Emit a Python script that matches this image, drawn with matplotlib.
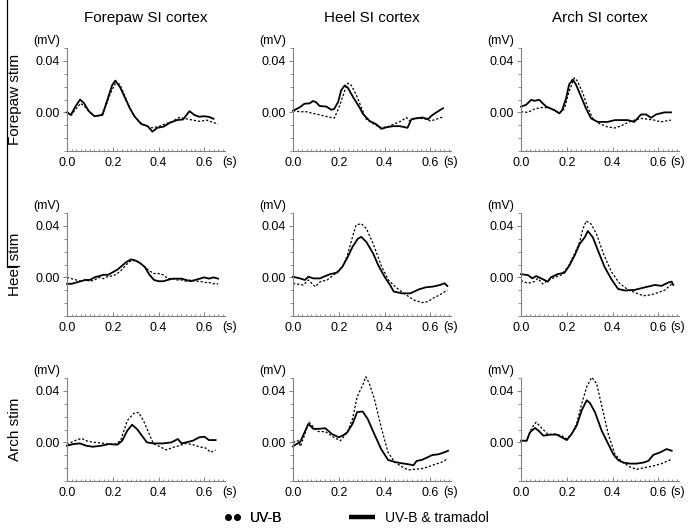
import matplotlib
matplotlib.use('Agg')
import matplotlib.pyplot as plt
from matplotlib.ticker import MultipleLocator
from matplotlib.lines import Line2D

plt.rcParams['font.family'] = ['Liberation Sans', 'DejaVu Sans']

# ---------------- data (time in s, amplitude in mV) ----------------
col_titles = ['Forepaw SI cortex', 'Heel SI cortex', 'Arch SI cortex']
row_titles = ['Forepaw stim', 'Heel stim', 'Arch stim']
x_ticks = [0.0, 0.2, 0.4, 0.6]
x_tick_labels = ['0.0', '0.2', '0.4', '0.6']
y_ticks = [0.00, 0.04]
y_tick_labels = ['0.00', '0.04']
legend_labels = ['UV-B', 'UV-B & tramadol']

# Forepaw stim / Forepaw cortex
t_fp_fp_uv = [0, 0.02, 0.04, 0.06, 0.08, 0.10, 0.12, 0.15, 0.17, 0.19, 0.21, 0.23, 0.25, 0.27, 0.29,
              0.32, 0.35, 0.37, 0.40, 0.43, 0.46, 0.49, 0.52, 0.55, 0.58, 0.61, 0.64, 0.66]
v_fp_fp_uv = [0.000, -0.002, 0.003, 0.007, 0.004, 0.000, -0.003, -0.002, 0.005, 0.015, 0.022, 0.022,
              0.014, 0.005, -0.002, -0.008, -0.011, -0.012, -0.011, -0.009, -0.007, -0.004, -0.005,
              -0.006, -0.007, -0.006, -0.008, -0.009]
t_fp_fp_tr = [0, 0.017, 0.035, 0.057, 0.075, 0.095, 0.12, 0.155, 0.176, 0.197, 0.211, 0.232, 0.254,
              0.275, 0.296, 0.324, 0.352, 0.373, 0.394, 0.423, 0.45, 0.48, 0.507, 0.535, 0.556, 0.577,
              0.60, 0.62, 0.64]
v_fp_fp_tr = [0.000, -0.002, 0.004, 0.010, 0.007, 0.001, -0.003, -0.002, 0.0096, 0.021, 0.0247, 0.0195,
              0.011, 0.003, -0.0034, -0.009, -0.0107, -0.015, -0.012, -0.011, -0.008, -0.006, -0.0055,
              0.001, -0.002, -0.0034, -0.003, -0.0035, -0.005]

# Forepaw stim / Heel cortex
t_fp_heel_uv = [0, 0.03, 0.058, 0.087, 0.116, 0.153, 0.18, 0.204, 0.226, 0.24, 0.255, 0.277, 0.298,
                0.32, 0.35, 0.378, 0.41, 0.437, 0.473, 0.495, 0.51, 0.524, 0.553, 0.582, 0.60, 0.626, 0.655]
v_fp_heel_uv = [0.0013, 0.0005, 0.0005, -0.0008, -0.0019, -0.0035, -0.0045, 0.0053, 0.017, 0.0227,
                0.021, 0.0133, 0.004, -0.0053, -0.0088, -0.0115, -0.0115, -0.0093, -0.0067, -0.004,
                -0.0067, -0.0053, -0.0045, -0.0053, -0.0067, -0.0053, -0.0035]
t_fp_heel_tr = [0, 0.03, 0.05, 0.073, 0.087, 0.10, 0.116, 0.146, 0.167, 0.18, 0.197, 0.21, 0.226, 0.24,
                0.262, 0.29, 0.306, 0.335, 0.364, 0.386, 0.41, 0.437, 0.466, 0.50, 0.517, 0.54, 0.567,
                0.59, 0.604, 0.626, 0.655]
v_fp_heel_tr = [0.0013, 0.004, 0.0067, 0.007, 0.0088, 0.008, 0.005, 0.0045, 0.002, 0.0027, 0.008,
                0.017, 0.021, 0.019, 0.012, 0.004, -0.0013, -0.0067, -0.0093, -0.0128, -0.0115,
                -0.0107, -0.0107, -0.012, -0.0053, -0.0045, -0.004, -0.0053, -0.0027, 0.000, 0.0032]

# Forepaw stim / Arch cortex
t_fp_arch_uv = [0, 0.03, 0.058, 0.087, 0.116, 0.146, 0.167, 0.19, 0.21, 0.233, 0.247, 0.27, 0.29, 0.313,
                0.342, 0.378, 0.41, 0.437, 0.466, 0.495, 0.524, 0.553, 0.582, 0.61, 0.655]
v_fp_arch_uv = [0.0005, 0.000, 0.0026, 0.0037, 0.0037, 0.0018, -0.0008, 0.003, 0.0163, 0.0268, 0.0242,
                0.015, 0.0045, -0.0047, -0.0087, -0.0113, -0.0121, -0.0105, -0.0079, -0.006, -0.0047,
                -0.0053, -0.006, -0.0074, -0.006]
t_fp_arch_tr = [0, 0.022, 0.044, 0.058, 0.08, 0.095, 0.11, 0.13, 0.153, 0.167, 0.18, 0.197, 0.21, 0.226,
                0.24, 0.262, 0.284, 0.306, 0.335, 0.378, 0.41, 0.437, 0.466, 0.495, 0.524, 0.546, 0.568,
                0.59, 0.626, 0.655]
v_fp_arch_tr = [0.0045, 0.0058, 0.0097, 0.009, 0.0097, 0.007, 0.0045, 0.003, 0.001, -0.0008, 0.0018,
                0.011, 0.0216, 0.0255, 0.0216, 0.0124, 0.003, -0.0047, -0.0074, -0.0074, -0.006, -0.006,
                -0.006, -0.0074, -0.0016, -0.0016, -0.0042, -0.0016, 0.000, 0.000]

# Heel stim / Forepaw cortex
t_heel_fp_uv = [0, 0.02, 0.04, 0.06, 0.08, 0.10, 0.12, 0.14, 0.16, 0.18, 0.20, 0.22, 0.24, 0.26, 0.28,
                0.30, 0.32, 0.34, 0.36, 0.38, 0.40, 0.42, 0.44, 0.46, 0.48, 0.50, 0.52, 0.54, 0.56, 0.58,
                0.60, 0.62, 0.64, 0.66]
v_heel_fp_uv = [0.000, -0.001, -0.002, -0.003, -0.002, -0.003, -0.002, 0.000, -0.001, 0.001, 0.001,
                0.003, 0.006, 0.010, 0.013, 0.013, 0.011, 0.008, 0.005, 0.003, 0.003, 0.002, -0.001,
                -0.001, -0.002, -0.002, -0.003, -0.002, -0.003, -0.003, -0.004, -0.004, -0.005, -0.005]
t_heel_fp_tr = [0, 0.02, 0.04, 0.06, 0.08, 0.10, 0.12, 0.14, 0.16, 0.18, 0.20, 0.22, 0.24, 0.26, 0.28,
                0.30, 0.32, 0.34, 0.36, 0.38, 0.40, 0.42, 0.44, 0.46, 0.48, 0.50, 0.52, 0.54, 0.56, 0.58,
                0.60, 0.62, 0.64, 0.66]
v_heel_fp_tr = [-0.005, -0.005, -0.004, -0.003, -0.002, -0.002, 0.000, 0.001, 0.002, 0.002, 0.004,
                0.006, 0.009, 0.012, 0.014, 0.013, 0.011, 0.008, 0.002, -0.002, -0.003, -0.003, -0.002,
                -0.001, -0.001, -0.001, -0.002, -0.003, -0.002, -0.001, 0.000, -0.001, 0.000, -0.001]

# Heel stim / Heel cortex
t_heel_heel_uv = [0, 0.045, 0.067, 0.097, 0.119, 0.149, 0.186, 0.216, 0.238, 0.26, 0.275, 0.298, 0.32,
                  0.35, 0.387, 0.417, 0.446, 0.484, 0.528, 0.565, 0.588, 0.61, 0.64, 0.674]
v_heel_heel_uv = [-0.0046, -0.006, -0.002, -0.0072, -0.0034, -0.002, 0.0031, 0.0083, 0.0173, 0.0315,
                  0.0405, 0.0418, 0.038, 0.0263, 0.0083, -0.002, -0.0072, -0.0124, -0.0176, -0.0196,
                  -0.0189, -0.0163, -0.0137, -0.0098]
t_heel_heel_tr = [0, 0.03, 0.052, 0.067, 0.089, 0.119, 0.134, 0.164, 0.193, 0.216, 0.238, 0.26, 0.283,
                  0.298, 0.32, 0.35, 0.372, 0.40, 0.424, 0.44, 0.476, 0.513, 0.55, 0.58, 0.61, 0.64,
                  0.662, 0.674]
v_heel_heel_tr = [0.0005, -0.0008, -0.002, 0.0005, -0.0008, -0.0008, 0.0005, 0.0026, 0.0037, 0.0083,
                  0.0155, 0.0237, 0.030, 0.0315, 0.0276, 0.0186, 0.0095, 0.0005, -0.006, -0.011,
                  -0.0124, -0.0124, -0.0093, -0.0077, -0.0072, -0.006, -0.0046, -0.0067]

# Heel stim / Arch cortex
t_heel_arch_uv = [0, 0.03, 0.058, 0.073, 0.095, 0.117, 0.146, 0.175, 0.205, 0.234, 0.256, 0.27, 0.285,
                  0.307, 0.33, 0.36, 0.395, 0.43, 0.468, 0.504, 0.534, 0.57, 0.60, 0.63, 0.658]
v_heel_arch_uv = [-0.0025, -0.0046, -0.0033, -0.0008, -0.0051, -0.0025, 0.000, 0.0018, 0.0081, 0.0183,
                  0.0273, 0.0375, 0.0438, 0.0413, 0.0336, 0.0183, 0.0043, -0.0046, -0.0097, -0.0122,
                  -0.0143, -0.0135, -0.0117, -0.0097, -0.0051]
t_heel_arch_tr = [0, 0.03, 0.05, 0.066, 0.088, 0.117, 0.13, 0.16, 0.19, 0.212, 0.234, 0.256, 0.278,
                  0.292, 0.314, 0.336, 0.365, 0.395, 0.424, 0.453, 0.497, 0.526, 0.556, 0.585, 0.614,
                  0.643, 0.658, 0.665]
v_heel_arch_tr = [0.0025, 0.0018, -0.0008, 0.001, -0.0008, -0.0033, 0.000, 0.0025, 0.0036, 0.0094,
                  0.017, 0.026, 0.031, 0.036, 0.031, 0.0209, 0.0081, -0.0015, -0.009, -0.0102, -0.0097,
                  -0.0084, -0.0071, -0.0059, -0.0066, -0.004, -0.0033, -0.0059]

# Arch stim / Forepaw cortex
t_arch_fp_uv = [0, 0.027, 0.063, 0.091, 0.12, 0.163, 0.206, 0.234, 0.263, 0.291, 0.313, 0.334, 0.356,
                0.377, 0.406, 0.434, 0.463, 0.49, 0.52, 0.55, 0.577, 0.606, 0.627, 0.649]
v_arch_fp_uv = [-0.0018, 0.0008, 0.0031, 0.0008, 0.000, -0.0008, -0.0018, 0.0013, 0.0168, 0.0225,
                0.0232, 0.0168, 0.0077, -0.0008, -0.0034, -0.0059, -0.0039, -0.0026, -0.0008, -0.0018,
                -0.0034, -0.0044, -0.0077, -0.0059]
t_arch_fp_tr = [0, 0.027, 0.056, 0.084, 0.113, 0.149, 0.184, 0.22, 0.241, 0.263, 0.284, 0.306, 0.327,
                0.349, 0.377, 0.42, 0.456, 0.484, 0.50, 0.52, 0.55, 0.577, 0.60, 0.62, 0.649]
v_arch_fp_tr = [-0.0026, -0.0013, -0.0008, -0.0026, -0.0034, -0.0026, -0.0013, -0.0018, 0.0013, 0.009,
                0.0137, 0.0103, 0.0052, 0.000, -0.0008, -0.0008, 0.000, 0.0026, -0.0008, 0.000, 0.0013,
                0.0039, 0.0044, 0.0018, 0.0018]

# Arch stim / Heel cortex
t_arch_heel_uv = [0, 0.022, 0.033, 0.052, 0.07, 0.089, 0.111, 0.141, 0.178, 0.207, 0.237, 0.26, 0.28,
                  0.304, 0.318, 0.333, 0.355, 0.385, 0.415, 0.444, 0.474, 0.504, 0.533, 0.563, 0.593,
                  0.622, 0.652, 0.677]
v_arch_heel_uv = [0.000, 0.0013, -0.0031, 0.0065, 0.0157, 0.0118, 0.0084, 0.0084, 0.0039, 0.0013,
                  0.0078, 0.0183, 0.0353, 0.0444, 0.051, 0.0458, 0.034, 0.0118, -0.0078, -0.0152,
                  -0.0188, -0.0214, -0.0209, -0.0204, -0.0188, -0.017, -0.0152, -0.0125]
t_arch_heel_tr = [0, 0.015, 0.03, 0.044, 0.067, 0.089, 0.111, 0.141, 0.17, 0.20, 0.222, 0.237, 0.26,
                  0.28, 0.304, 0.326, 0.355, 0.385, 0.415, 0.444, 0.474, 0.504, 0.526, 0.54, 0.563,
                  0.585, 0.607, 0.637, 0.667, 0.677]
v_arch_heel_tr = [-0.0031, -0.0013, 0.000, 0.0052, 0.0144, 0.0105, 0.0105, 0.011, 0.0065, 0.0039,
                  0.0058, 0.0078, 0.0144, 0.0235, 0.024, 0.0183, 0.0065, -0.0052, -0.0136, -0.0152,
                  -0.0162, -0.017, -0.0178, -0.0144, -0.0136, -0.0118, -0.0099, -0.0092, -0.0073, -0.0065]

# Arch stim / Arch cortex
t_arch_arch_uv = [0, 0.025, 0.047, 0.066, 0.09, 0.119, 0.148, 0.178, 0.20, 0.221, 0.243, 0.265, 0.287,
                  0.309, 0.33, 0.352, 0.381, 0.41, 0.44, 0.476, 0.505, 0.541, 0.578, 0.614, 0.658]
v_arch_arch_uv = [0.0013, 0.0013, 0.0112, 0.0157, 0.0112, 0.006, 0.0065, 0.0052, 0.0026, 0.0065, 0.0144,
                  0.030, 0.0431, 0.0505, 0.0458, 0.0288, 0.0065, -0.0092, -0.0149, -0.0191, -0.0209,
                  -0.0196, -0.0183, -0.0165, -0.0131]
t_arch_arch_tr = [0, 0.025, 0.039, 0.061, 0.076, 0.098, 0.127, 0.156, 0.178, 0.20, 0.221, 0.243, 0.265,
                  0.287, 0.301, 0.323, 0.352, 0.374, 0.403, 0.425, 0.447, 0.476, 0.505, 0.534, 0.556,
                  0.578, 0.607, 0.636, 0.658]
v_arch_arch_tr = [0.0013, 0.0013, 0.0078, 0.0112, 0.0092, 0.0052, 0.006, 0.006, 0.0039, 0.0018, 0.0065,
                  0.013, 0.0248, 0.0327, 0.0306, 0.0235, 0.0092, 0.0013, -0.0092, -0.0139, -0.0157,
                  -0.0165, -0.0165, -0.0157, -0.0144, -0.0097, -0.0078, -0.0052, -0.0065]

panels = [
    [(t_fp_fp_uv, v_fp_fp_uv, t_fp_fp_tr, v_fp_fp_tr),
     (t_fp_heel_uv, v_fp_heel_uv, t_fp_heel_tr, v_fp_heel_tr),
     (t_fp_arch_uv, v_fp_arch_uv, t_fp_arch_tr, v_fp_arch_tr)],
    [(t_heel_fp_uv, v_heel_fp_uv, t_heel_fp_tr, v_heel_fp_tr),
     (t_heel_heel_uv, v_heel_heel_uv, t_heel_heel_tr, v_heel_heel_tr),
     (t_heel_arch_uv, v_heel_arch_uv, t_heel_arch_tr, v_heel_arch_tr)],
    [(t_arch_fp_uv, v_arch_fp_uv, t_arch_fp_tr, v_arch_fp_tr),
     (t_arch_heel_uv, v_arch_heel_uv, t_arch_heel_tr, v_arch_heel_tr),
     (t_arch_arch_uv, v_arch_arch_uv, t_arch_arch_tr, v_arch_arch_tr)],
]

# ---------------- layout ----------------
W, H = 688, 532
fig = plt.figure(figsize=(W / 100, H / 100), dpi=100)
col_left = [67, 293, 521]
row_top = [48, 213, 378]
ax_w, ax_h = 158, 103
spine_col = '#808080'
dot_style = (0, (1.8, 1.5))
s_xpos = [1.03, 1.0, 0.99]

for r in range(3):
    for c in range(3):
        ax = fig.add_axes([col_left[c] / W, 1 - (row_top[r] + ax_h) / H, ax_w / W, ax_h / H])
        tu, vu, tt, vt = panels[r][c]
        ax.plot(tu, vu, color='k', lw=0.9, ls=dot_style, clip_on=False)
        ax.plot(tt, vt, color='k', lw=1.3, clip_on=False)
        ax.set_xlim(0, 0.69)
        ax.set_ylim(-0.03, 0.05)
        for s in ['top', 'right']:
            ax.spines[s].set_visible(False)
        for s in ['left', 'bottom']:
            ax.spines[s].set_color(spine_col)
            ax.spines[s].set_linewidth(0.8)
        ax.set_yticks(y_ticks)
        ax.set_yticklabels(y_tick_labels)
        ax.yaxis.set_minor_locator(MultipleLocator(0.01))
        ax.set_xticks(x_ticks)
        ax.set_xticklabels(x_tick_labels)
        ax.xaxis.set_minor_locator(MultipleLocator(0.02))
        ax.tick_params(axis='x', which='major', direction='in', length=3, width=0.7,
                       color=spine_col, labelsize=9, pad=4)
        ax.tick_params(axis='x', which='minor', direction='in', length=1.8, width=0.6, color=spine_col)
        ax.tick_params(axis='y', which='major', direction='out', length=3, width=0.7,
                       color=spine_col, labelsize=9, pad=2)
        ax.tick_params(axis='y', which='minor', direction='out', length=2, width=0.6, color=spine_col)
        ax.text(-0.045, 1.07, '(mV)', transform=ax.transAxes, ha='right', va='center', fontsize=9)
        ax.text(s_xpos[c], -0.107, '(s)', transform=ax.transAxes, ha='center', va='center', fontsize=9)
        if r == 0:
            ax.text(0.5, 1 + (row_top[0] - 18) / ax_h, col_titles[c], transform=ax.transAxes,
                    ha='center', va='center', fontsize=11)
        if c == 0:
            fig.text(15 / W, 1 - (row_top[r] + ax_h / 2) / H, row_titles[r], rotation=90,
                     ha='center', va='center', fontsize=11)

# left bracket line
fig.add_artist(Line2D([7 / W, 7 / W], [1, 1 - 266 / H], transform=fig.transFigure, color='k', lw=0.9))
fig.add_artist(Line2D([7 / W, 19 / W], [1 - 266 / H, 1 - 266 / H], transform=fig.transFigure, color='k', lw=0.9))

# legends
h_uv = Line2D([], [], linestyle='none', marker='o', markersize=3.8, color='k')
leg1 = fig.legend([h_uv], [legend_labels[0]], loc='center left', bbox_to_anchor=(224 / W, 1 - 518 / H),
                  frameon=False, numpoints=2, handlelength=1.2, handletextpad=0.65, fontsize=10,
                  borderpad=0, borderaxespad=0)
h_tr = Line2D([], [], color='k', lw=3.2, solid_capstyle='butt')
leg2 = fig.legend([h_tr], [legend_labels[1]], loc='center left', bbox_to_anchor=(349 / W, 1 - 518 / H),
                  frameon=False, handlelength=1.9, handletextpad=0.7, fontsize=10,
                  borderpad=0, borderaxespad=0)
fig.add_artist(leg1)

fig.savefig('out.png', dpi=100)
